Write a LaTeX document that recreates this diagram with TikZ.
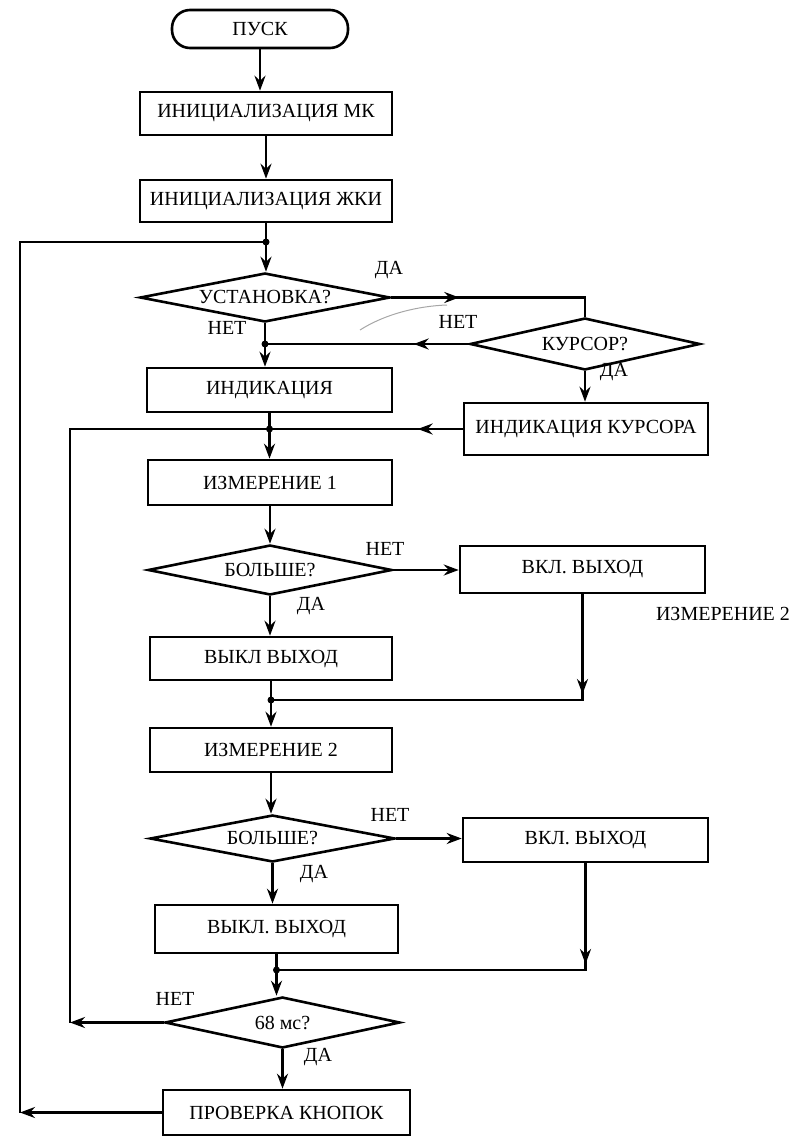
\documentclass[tikz,border=0pt]{standalone}
\usepackage{fontspec}
\setmainfont{Liberation Serif}
\usetikzlibrary{arrows.meta,shapes.geometric,calc}
\newcommand\dfont{\fontsize{20}{23}\selectfont}
\begin{document}
\begin{tikzpicture}[x=1pt,y=-1pt,
  every node/.style={font=\dfont},
  proc/.style={draw, line width=2.6pt, rectangle, inner sep=0pt},
  dec/.style={draw, line width=2.6pt, diamond, inner sep=0pt, aspect=4.8},
  term/.style={draw, line width=2.6pt, rectangle, rounded corners=18pt, inner sep=0pt},
  flow/.style={line width=2.6pt},
  arr/.style={flow, -{Stealth[length=15pt,width=11pt,inset=5pt]}},
  lbl/.style={inner sep=0pt},
  junct/.style={circle, fill, inner sep=0pt, minimum size=7pt}
]
\useasboundingbox (0,0) rectangle (800,1137);

% blocks
\node[term, minimum width=176pt, minimum height=38pt] (pusk) at (260,29) {ПУСК};
\node[proc, minimum width=252pt, minimum height=43pt] (mk) at (266,113.5) {ИНИЦИАЛИЗАЦИЯ МК};
\node[proc, minimum width=252pt, minimum height=42pt] (zhki) at (266,201) {ИНИЦИАЛИЗАЦИЯ ЖКИ};
\node[dec, minimum width=250pt, minimum height=49pt] (ust) at (265,297.5) {УСТАНОВКА?};
\node[dec, minimum width=230pt, minimum height=52pt] (kurs) at (585,344) {КУРСОР?};
\node[proc, minimum width=245pt, minimum height=44pt] (ind) at (269.5,390) {ИНДИКАЦИЯ};
\node[proc, minimum width=244pt, minimum height=52pt] (indk) at (586,429) {ИНДИКАЦИЯ КУРСОРА};
\node[proc, minimum width=244pt, minimum height=45pt] (izm1) at (270,482.5) {ИЗМЕРЕНИЕ 1};
\node[dec, minimum width=244pt, minimum height=50pt] (bol1) at (270,570) {БОЛЬШЕ?};
\node[proc, minimum width=245pt, minimum height=47pt] (vkl1) at (582.5,569.5) {ВКЛ. ВЫХОД};
\node[proc, minimum width=242pt, minimum height=43pt] (vykl1) at (271,658.5) {ВЫКЛ ВЫХОД};
\node[proc, minimum width=242pt, minimum height=44pt] (izm2) at (271,750) {ИЗМЕРЕНИЕ 2};
\node[dec, minimum width=245pt, minimum height=47pt] (bol2) at (272.5,838.5) {БОЛЬШЕ?};
\node[proc, minimum width=245pt, minimum height=44pt] (vkl2) at (585.5,840) {ВКЛ. ВЫХОД};
\node[proc, minimum width=243pt, minimum height=48pt] (vykl2) at (276.5,929) {ВЫКЛ. ВЫХОД};
\node[dec, minimum width=235pt, minimum height=51pt] (t68) at (282.5,1022.5) {68 мс?};
\node[proc, minimum width=247pt, minimum height=45pt] (prov) at (286.5,1112.5) {ПРОВЕРКА КНОПОК};

% junctions
\node[junct] (j1) at (266,242) {};
\node[junct] (j2) at (ust.south |- kurs.west) {};
\node[junct] (j3) at (ind.south |- indk.west) {};
\node[junct] (j4) at (271,700) {};
\node[junct] (j5) at (276.5,970) {};

% labels
\node[lbl] (l1) at (389,270) {ДА};
\node[lbl] (l2) at (227,328) {НЕТ};
\node[lbl] (l3) at (458,322) {НЕТ};
\node[lbl] (l4) at (614,372) {ДА};
\node[lbl] (l5) at (385,549) {НЕТ};
\node[lbl] (l6) at (311,606) {ДА};
\node[lbl] (l7) at (723,614) {ИЗМЕРЕНИЕ 2};
\node[lbl] (l8) at (390,815) {НЕТ};
\node[lbl] (l9) at (314,874) {ДА};
\node[lbl] (l10) at (175,999) {НЕТ};
\node[lbl] (l11) at (318,1057) {ДА};

% main flow
\draw[arr] (pusk.south) -- (pusk.south |- mk.north);
\draw[arr] (mk.south) -- (mk.south |- zhki.north);
\draw[flow] (zhki.south) -- (j1.center);
\draw[arr] (j1.center) -- (j1.center |- ust.north);

% УСТАНОВКА -> КУРСОР
\draw[flow] (ust.east) -- (ust.east -| kurs.north) -- (kurs.north);
\draw[arr] (ust.east) -- ++(68,0);
% КУРСОР НЕТ -> j2
\draw[flow] (kurs.west) -- (j2.center);
\draw[arr] (kurs.west) -- ++(-55,0);
\draw[flow] (ust.south) -- (j2.center);
\draw[arr] (j2.center) -- (j2.center |- ind.north);
% КУРСОР ДА
\draw[arr] (kurs.south) -- (kurs.south |- indk.north);

% ИНДИКАЦИЯ -> j3 -> ИЗМЕРЕНИЕ 1
\draw[flow] (ind.south) -- (j3.center);
\draw[arr] (j3.center) -- (j3.center |- izm1.north);
\coordinate (iLt) at (70,429);
\coordinate (iLb) at (iLt |- t68.west);
\draw[flow] (indk.west) -- (j3.center) -- (iLt) -- (iLb);
\draw[arr] (indk.west) -- ++(-45,0);
\draw[arr] (t68.west) -- (iLb);

% first comparison
\draw[arr] (izm1.south) -- (izm1.south |- bol1.north);
\draw[arr] (bol1.east) -- (bol1.east -| vkl1.west);
\draw[arr] (bol1.south) -- (bol1.south |- vykl1.north);
\draw[flow] (vykl1.south) -- (j4.center);
\coordinate (c1) at (vkl1.south |- j4.center);
\draw[flow] (vkl1.south) -- (c1) -- (j4.center);
\draw[arr] (vkl1.south) -- ($(c1)+(0,-6)$);
\draw[arr] (j4.center) -- (j4.center |- izm2.north);

% second comparison
\draw[arr] (izm2.south) -- (izm2.south |- bol2.north);
\draw[arr] (bol2.east) -- (bol2.east -| vkl2.west);
\draw[arr] (bol2.south) -- (bol2.south |- vykl2.north);
\draw[flow] (vykl2.south) -- (j5.center);
\coordinate (c2) at (vkl2.south |- j5.center);
\draw[flow] (vkl2.south) -- (c2) -- (j5.center);
\draw[arr] (vkl2.south) -- ($(c2)+(0,-6)$);
\draw[arr] (j5.center) -- (j5.center |- t68.north);

% 68 мс ДА -> ПРОВЕРКА
\draw[arr] (t68.south) -- (t68.south |- prov.north);

% outer loop
\coordinate (oT) at (20,242);
\coordinate (oB) at (oT |- prov.west);
\draw[flow] (j1.center) -- (oT) -- (oB);
\draw[arr] (prov.west) -- (oB);

% stray pencil stroke
\draw[gray!70, line width=1pt] (360,330) .. controls (385,314) and (418,306) .. (447,305);
\end{tikzpicture}
\end{document}
